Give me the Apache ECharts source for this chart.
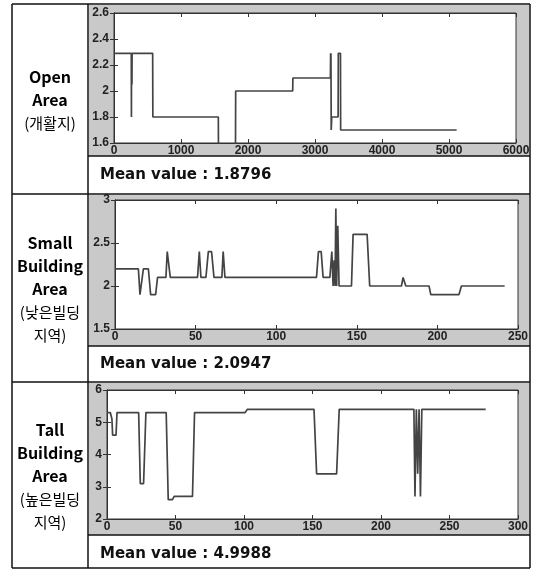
<!DOCTYPE html>
<html><head><meta charset="utf-8">
<script src="https://cdn.jsdelivr.net/npm/echarts@6/dist/echarts.min.js"></script>
<style>html,body{margin:0;padding:0;background:#fff}#c{width:534px;height:570px}</style>
</head><body><div id="c"></div>
<script>
// ---- data (x, y) ----
var openArea = [[0,2.29],[258,2.29],[260,1.8],[262,2.29],[264,2.05],[266,2.29],[268,2.05],[270,2.29],[577,2.29],[580,1.8],[1557,1.8],[1560,1.5],[1813,1.5],[1816,2.0],[2667,2.0],[2670,2.1],[3230,2.1],[3233,2.29],[3236,2.1],[3238,2.29],[3242,1.7],[3250,1.8],[3345,1.8],[3348,2.29],[3380,2.29],[3383,1.7],[5114,1.7]];
var smallArea = [[0,2.2],[14.5,2.2],[15.5,1.9],[16.1,1.9],[17.6,2.2],[20.7,2.2],[22.1,1.9],[25.2,1.9],[26.4,2.1],[31.6,2.1],[32.4,2.4],[33.5,2.4],[34.3,2.1],[51.2,2.1],[52.3,2.4],[53.3,2.1],[56.4,2.1],[57.9,2.4],[59.9,2.4],[61.4,2.1],[66.3,2.1],[67.1,2.4],[68.2,2.1],[125,2.1],[126.2,2.4],[127.9,2.4],[129.1,2.1],[133.3,2.1],[134.5,2.4],[135.3,2.0],[135.9,2.3],[136.5,2.0],[137,2.9],[137.5,2.0],[138.2,2.7],[139,2.0],[146.7,2.0],[147.7,2.6],[156.4,2.6],[158,2.0],[177.7,2.0],[178.7,2.1],[180.4,2.0],[194.8,2.0],[195.9,1.9],[213.4,1.9],[214.9,2.0],[241.7,2.0]];
var tallArea = [[0,5.3],[2.4,5.3],[3.6,5.1],[4.1,4.6],[6.6,4.6],[7.3,5.3],[23.1,5.3],[24.3,3.1],[26.7,3.1],[28.4,5.3],[43.2,5.3],[44.7,2.6],[47.8,2.6],[49,2.7],[62.4,2.7],[63.9,5.3],[100.8,5.3],[102.5,5.4],[151.1,5.4],[153,3.4],[167.6,3.4],[169.5,5.4],[224,5.4],[224.8,2.7],[225.8,5.4],[226.8,3.4],[227.8,5.4],[228.8,2.7],[229.8,5.4],[276.4,5.4]];
var meanValues = ['1.8796','2.0947','4.9988'];
var rowLabels = [
  ['Open','Area','(개활지)'],
  ['Small','Building','Area','(낮은빌딩','지역)'],
  ['Tall','Building','Area','(높은빌딩','지역)']
];
var xRanges = [[0,6000,1000],[0,250,50],[0,300,50]];
var yRanges = [[1.6,2.6,0.2],[1.5,3,0.5],[2,6,1]];

// ---- layout ----
var grids = [
  {left:114, top:13, width:402, height:130},
  {left:115, top:200, width:403, height:129},
  {left:107, top:390, width:411, height:129}
];
var panels = [[5,156],[195,346],[383,535]];
var meanY = [175,364,554];
var rowCenters = [100,289,476];
var lineH = 23;

var chart = echarts.init(document.getElementById('c'), null, {renderer:'canvas'});
var labelFont = {color:'#222', fontFamily:'"Liberation Sans", Arial, sans-serif', fontSize:12, fontWeight:'bold'};
var plain = function(v){ return String(Math.round(v*100)/100); };
var gridOpts = [], xAxes = [], yAxes = [], series = [];
var datas = [openArea, smallArea, tallArea];
for (var i=0;i<3;i++){
  gridOpts.push(Object.assign({show:true, backgroundColor:'#fff', borderColor:'#333', borderWidth:1}, grids[i]));
  var xr = xRanges[i], yr = yRanges[i];
  xAxes.push({type:'value', gridIndex:i, min:xr[0], max:xr[1], interval:xr[2], position:'bottom',
    axisLine:{show:true, lineStyle:{color:'#333', width:1}}, axisTick:{inside:true, length:4, lineStyle:{color:'#333'}},
    splitLine:{show:false}, axisLabel:Object.assign({margin:2, showMinLabel:true, showMaxLabel:true, formatter:plain}, labelFont)});
  xAxes.push({type:'value', gridIndex:i, min:xr[0], max:xr[1], interval:xr[2], position:'top',
    axisLine:{show:true, lineStyle:{color:'#333', width:1}}, axisTick:{inside:true, length:4, lineStyle:{color:'#333'}},
    splitLine:{show:false}, axisLabel:{show:false}});
  yAxes.push({type:'value', gridIndex:i, min:yr[0], max:yr[1], interval:yr[2], position:'left',
    axisLine:{show:true, lineStyle:{color:'#333', width:1}}, axisTick:{inside:true, length:4, lineStyle:{color:'#333'}},
    splitLine:{show:false}, axisLabel:Object.assign({margin:5, showMinLabel:true, showMaxLabel:true, formatter:plain}, labelFont)});
  yAxes.push({type:'value', gridIndex:i, min:yr[0], max:yr[1], interval:yr[2], position:'right',
    axisLine:{show:true, lineStyle:{color:'#333', width:1}}, axisTick:{inside:true, length:4, lineStyle:{color:'#333'}},
    splitLine:{show:false}, axisLabel:{show:false}});
  series.push({type:'line', xAxisIndex:2*i, yAxisIndex:2*i, data:datas[i], showSymbol:false, symbol:'none',
    clip:true, lineStyle:{color:'#444', width:1.7}, silent:true});
}

var graphics = [];
panels.forEach(function(p){
  graphics.push({type:'rect', shape:{x:89, y:p[0], width:440, height:p[1]-p[0]}, style:{fill:'#c9c9c9'}, z:-100});
});
var L = function(x1,y1,x2,y2){ graphics.push({type:'line', shape:{x1:x1,y1:y1,x2:x2,y2:y2}, style:{stroke:'#111', lineWidth:1.5}, z:100}); };
L(12,4,530,4); L(12,568,530,568); L(12,4,12,568); L(530,4,530,568); L(88,4,88,568);
L(12,194,530,194); L(12,382,530,382);
panels.forEach(function(p){ L(88,p[1],530,p[1]); });
meanValues.forEach(function(m,i){
  graphics.push({type:'text', z:100, style:{x:100, y:meanY[i], text:'Mean value : '+m, textVerticalAlign:'middle',
    fill:'#111', font:'bold 15px "DejaVu Sans", sans-serif'}});
});
rowLabels.forEach(function(lines,i){
  var n = lines.length;
  lines.forEach(function(t,j){
    var y = rowCenters[i] + (j-(n-1)/2)*lineH;
    var korean = /[\uAC00-\uD7AF]/.test(t);
    graphics.push({type:'text', z:100, style:{x:50, y:y, text:t, textAlign:'center', textVerticalAlign:'middle', fill:'#000',
      font: korean ? '15px "Noto Sans CJK KR", sans-serif' : 'bold 16px "Noto Sans CJK KR", "Noto Sans", sans-serif'}});
  });
});

chart.setOption({
  animation:false,
  backgroundColor:'#fff',
  grid:gridOpts, xAxis:xAxes, yAxis:yAxes, series:series,
  graphic:{elements:graphics}
});
</script></body></html>
